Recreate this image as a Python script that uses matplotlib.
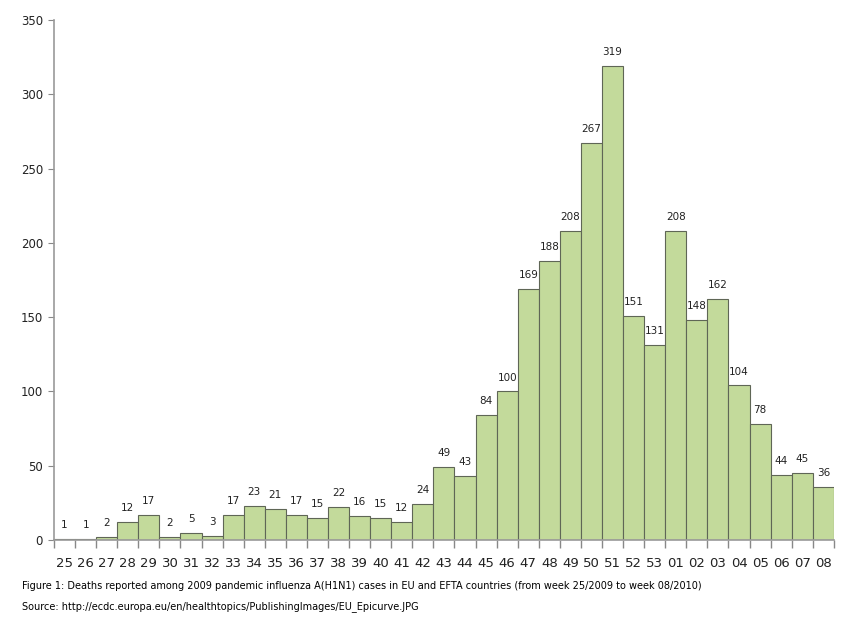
import matplotlib
matplotlib.use('Agg')
import matplotlib.pyplot as plt
import numpy as np

# weekly deaths, week 25/2009 to 08/2010
weeks = ['25', '26', '27', '28', '29', '30', '31', '32', '33', '34', '35', '36',
         '37', '38', '39', '40', '41', '42', '43', '44', '45', '46', '47', '48',
         '49', '50', '51', '52', '53', '01', '02', '03', '04', '05', '06', '07', '08']
deaths = [1, 1, 2, 12, 17, 2, 5, 3, 17, 23, 21, 17, 15, 22, 16, 15, 12, 24,
          49, 43, 84, 100, 169, 188, 208, 267, 319, 151, 131, 208, 148, 162,
          104, 78, 44, 45, 36]

caption = ("Figure 1: Deaths reported among 2009 pandemic influenza A(H1N1) cases "
           "in EU and EFTA countries (from week 25/2009 to week 08/2010)")
source = "Source: http://ecdc.europa.eu/en/healthtopics/PublishingImages/EU_Epicurve.JPG"

fig = plt.figure(figsize=(8.44, 6.25), dpi=100)
ax = fig.add_axes([0.064, 0.136, 0.924, 0.832])

x = np.arange(len(weeks))
bars = ax.bar(x, deaths, width=1.0, color='#c3da9b', edgecolor='#5f6656', linewidth=0.8)

for xi, v in zip(x, deaths):
    ax.text(xi, v + 6, str(v), ha='center', va='bottom', fontsize=7.5, color='#222222')

ax.set_xlim(-0.5, len(weeks) - 0.5)
ax.set_ylim(0, 350)
ax.set_yticks(range(0, 351, 50))
ax.set_xticks(x)
ax.set_xticklabels(weeks, fontsize=9.5, color='#222222')
ax.set_xticks(np.arange(-0.5, len(weeks), 1.0), minor=True)
ax.tick_params(axis='x', which='major', length=0, pad=12)
ax.tick_params(axis='x', which='minor', length=6, color='#888888', width=1)
ax.tick_params(axis='y', length=4, color='#888888', labelsize=8.5, pad=4, labelcolor='#222222')

for side in ['top', 'right']:
    ax.spines[side].set_visible(False)
for side in ['left', 'bottom']:
    ax.spines[side].set_color('#999999')
    ax.spines[side].set_linewidth(1.2)

fig.text(0.026, 0.057, caption, fontsize=7, color='#000000')
fig.text(0.026, 0.025, source, fontsize=7, color='#000000')

fig.savefig('out.png', dpi=100)
